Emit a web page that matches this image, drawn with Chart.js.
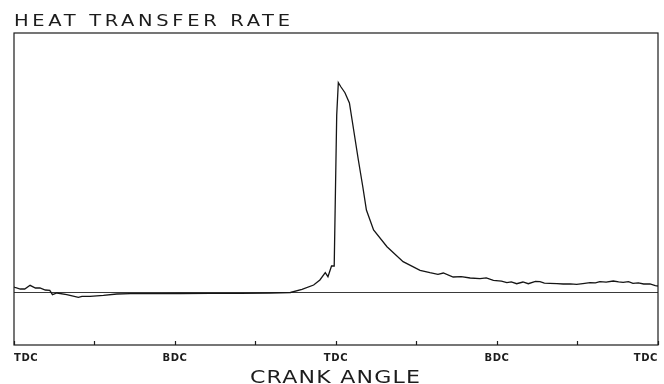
<!DOCTYPE html>
<html>
<head>
<meta charset="utf-8">
<script src="https://cdn.jsdelivr.net/npm/chart.js@4"></script>
<style>
  html, body { margin: 0; padding: 0; background: #fff; }
  #wrap { width: 664px; height: 384px; }
</style>
</head>
<body>
<div id="wrap"><canvas id="heatChart" width="664" height="384"></canvas></div>
<script>
// crank angle in degrees (0 = TDC, 180 = BDC, 360 = TDC ...)
const crankAngle = [0, 1, 7, 12, 18, 24, 29, 35, 40, 43, 48, 59, 72, 76, 85, 100, 115, 130, 144, 160,
    186, 219, 253, 286, 309, 322, 335, 342, 348, 351, 355, 358, 359.4, 360.8, 362.6, 365.6, 370, 375, 378, 385,
    390, 394, 402, 417, 435, 454, 465, 474, 480, 491, 500, 510, 521, 528, 536, 545, 551, 556, 562, 569,
    575, 583, 588, 593, 599, 607, 614, 622, 629, 636, 644, 650, 655, 662, 670, 676, 681, 687, 692, 698,
    704, 711, 717, 720];

// heat transfer rate (arbitrary units)
const heatRate = [5.5, 5.2, 3.5, 3.5, 7.2, 4.5, 4.5, 2.5, 2.2, -2.2, -0.5, -2.2, -4.8, -3.8, -3.8, -2.8, -1.5, -1.2, -1.2, -1.2,
    -1, -0.8, -0.8, -0.5, 0, 3.2, 7.5, 12.5, 19.8, 15.8, 26.5, 26.5, 102.5, 177.5, 209.8, 205.5, 199.8, 189.5, 172.5, 132.5,
    105.5, 82.5, 62.5, 45.8, 30.8, 22.2, 19.8, 18.2, 19.5, 15.5, 15.8, 14.5, 13.8, 14.6, 12.2, 11.4, 9.8, 10.6, 8.8, 10.5,
    8.8, 11.2, 10.8, 9.4, 9.2, 8.9, 8.5, 8.6, 8.2, 8.9, 9.8, 9.6, 10.8, 10.3, 11.5, 10.6, 10.2, 10.9, 9.2, 9.6,
    8.5, 8.5, 6.8, 6.5];

// zero reference line
const baseAngle = [0, 720];
const baseValue = [0, 0];

// x tick labels every 180 deg, minor marks every 90 deg
const tickLabels = { 0: "TDC", 180: "BDC", 360: "TDC", 540: "BDC", 720: "TDC" };

const yMin = -52.5;
const yMax = 259.5;

// frame + wide plotter-style titles
const framePlugin = {
    id: "frame",
    beforeDraw(chart) {
        chart.ctx.letterSpacing = "0.6px";
    },
    afterDraw(chart) {
        const { ctx, chartArea: a } = chart;
        ctx.save();
        ctx.letterSpacing = "0px";
        ctx.strokeStyle = "#1c1c1c";
        ctx.lineWidth = 1.2;
        ctx.strokeRect(a.left, a.top, a.right - a.left, a.bottom - a.top);

        ctx.fillStyle = "#1c1c1c";
        ctx.textBaseline = "alphabetic";
        ctx.textAlign = "left";
        wideText(ctx, "HEAT TRANSFER RATE", 14, 26, 276, 1.3, '15px "DejaVu Sans"');
        wideText(ctx, "CRANK ANGLE", 250, 383, 170, 1.3, '17px "DejaVu Sans"');
        ctx.restore();
    }
};

function wideText(ctx, text, x, y, width, stretch, font) {
    ctx.save();
    ctx.font = font;
    ctx.letterSpacing = "0px";
    const w = ctx.measureText(text).width;
    const sp = Math.max(0, (width / stretch - w) / (text.length - 1));
    ctx.translate(x, y);
    ctx.scale(stretch, 1);
    ctx.letterSpacing = sp + "px";
    ctx.fillText(text, 0, 0);
    ctx.restore();
}

new Chart(document.getElementById("heatChart"), {
    type: "line",
    data: {
        datasets: [{
            data: crankAngle.map((a, i) => ({ x: a, y: heatRate[i] })),
            borderColor: "#151515",
            borderWidth: 1.3,
            pointRadius: 0,
            tension: 0,
            fill: false
        }, {
            data: baseAngle.map((a, i) => ({ x: a, y: baseValue[i] })),
            borderColor: "#3a3a3a",
            borderWidth: 1,
            pointRadius: 0,
            fill: false
        }]
    },
    options: {
        responsive: false,
        animation: false,
        layout: { padding: { left: 14, right: 6, top: 33, bottom: 0 } },
        plugins: {
            legend: { display: false },
            tooltip: { enabled: false },
            title: { display: false }
        },
        scales: {
            x: {
                type: "linear",
                min: 0,
                max: 720,
                border: { display: false },
                grid: {
                    drawOnChartArea: false,
                    drawTicks: true,
                    tickLength: -4,
                    tickColor: "#1c1c1c",
                    tickWidth: 1.2
                },
                ticks: {
                    stepSize: 90,
                    autoSkip: false,
                    maxRotation: 0,
                    align: "inner",
                    padding: 11,
                    color: "#1c1c1c",
                    font: { family: "DejaVu Sans", size: 10, weight: "bold" },
                    callback: v => tickLabels[v] || ""
                },
                afterFit: s => {
                    s.height = 39;
                    s.paddingLeft = 0;
                    s.paddingRight = 0;
                }
            },
            y: {
                display: false,
                min: yMin,
                max: yMax
            }
        }
    },
    plugins: [framePlugin]
});
</script>
</body>
</html>
